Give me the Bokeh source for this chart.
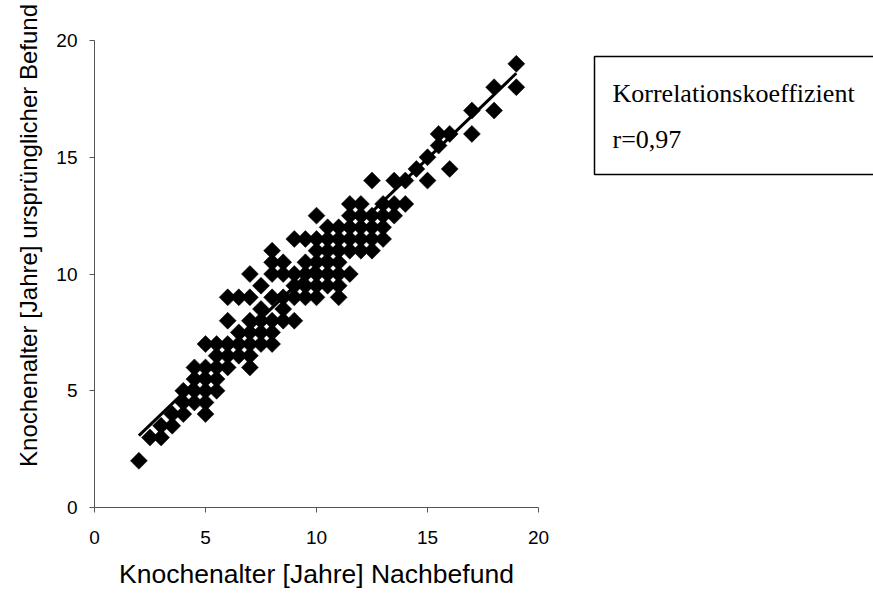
import numpy as np
from bokeh.plotting import figure
from bokeh.layouts import row
from bokeh.models import Range1d, FixedTicker
from bokeh.core.properties import value
from bokeh.embed import file_html
from bokeh.resources import INLINE

# Bone age per patient in years: follow-up reading vs. original reading
nachbefund = [
    2, 2.5, 3, 3, 3.5, 3.5, 4, 4, 4, 4.5, 4.5, 4.5, 4.5,
    5, 5, 5, 5, 5, 5, 5.5, 5.5, 5.5, 5.5, 5.5,
    6, 6, 6, 6, 6, 6.5, 6.5, 6.5, 6.5,
    7, 7, 7, 7, 7, 7, 7, 7.5, 7.5, 7.5, 7.5, 7.5,
    8, 8, 8, 8, 8, 8, 8, 8.5, 8.5, 8.5, 8.5, 8.5,
    9, 9, 9, 9, 9, 9.5, 9.5, 9.5, 9.5, 9.5,
    10, 10, 10, 10, 10, 10, 10, 10.5, 10.5, 10.5, 10.5, 10.5, 10.5,
    11, 11, 11, 11, 11, 11, 11, 11.5, 11.5, 11.5, 11.5, 11.5, 11.5,
    12, 12, 12, 12, 12, 12.5, 12.5, 12.5, 12.5, 12.5,
    13, 13, 13, 13, 13.5, 13.5, 13.5, 14, 14, 14.5,
    15, 15, 15.5, 15.5, 16, 16, 17, 17, 18, 18, 19, 19,
]
urspruenglich = [
    2, 3, 3, 3.5, 3.5, 4, 4, 4.5, 5, 4.5, 5, 5.5, 6,
    4, 4.5, 5, 5.5, 6, 7, 5, 5.5, 6, 6.5, 7,
    6, 6.5, 7, 8, 9, 6.5, 7, 7.5, 9,
    6, 6.5, 7, 7.5, 8, 9, 10, 7, 7.5, 8, 8.5, 9.5,
    7, 7.5, 8, 9, 10, 10.5, 11, 8, 8.5, 9, 10, 10.5,
    8, 9, 9.5, 10, 11.5, 9, 9.5, 10, 10.5, 11.5,
    9, 9.5, 10, 10.5, 11, 11.5, 12.5, 9.5, 10, 10.5, 11, 11.5, 12,
    9, 9.5, 10, 10.5, 11, 11.5, 12, 10, 11, 11.5, 12, 12.5, 13,
    11, 11.5, 12, 12.5, 13, 11, 11.5, 12, 12.5, 14,
    11.5, 12, 12.5, 13, 12.5, 13, 14, 13, 14, 14.5,
    14, 15, 15.5, 16, 14.5, 16, 16, 17, 17, 18, 18, 19,
]

# Regression line of the original reading on the follow-up reading
fit_intercept = 1.25
fit_slope = 0.913

axis_ticks = [0, 5, 10, 15, 20]
x_title = "Knochenalter [Jahre] Nachbefund"
y_title = "Knochenalter [Jahre] ursprünglicher Befund"
corr_title = "Korrelationskoeffizient"
corr_value = 0.97

SANS = "Liberation Sans"
SERIF = "Liberation Serif"
H = 599


def blank_panel(width):
    """A full-bleed figure without axes, title or frame padding."""
    f = figure(width=width, height=H, x_range=Range1d(0, width), y_range=Range1d(0, H),
               output_backend="svg", toolbar_location=None, title=None,
               x_axis_type=None, y_axis_type=None, frame_align=False,
               min_border_left=0, min_border_right=0,
               min_border_top=0, min_border_bottom=0)
    f.outline_line_color = None
    f.grid.grid_line_color = None
    f.background_fill_color = "white"
    f.border_fill_color = "white"
    return f


# ---- main scatter plot ----
p = figure(width=508, height=H, x_range=Range1d(0, 20), y_range=Range1d(0, 20),
           output_backend="svg", toolbar_location=None, title=None, frame_align=False,
           min_border_left=44, min_border_right=20,
           min_border_top=40, min_border_bottom=92)
p.outline_line_color = None
p.xgrid.grid_line_color = None
p.ygrid.grid_line_color = None
p.background_fill_color = "white"
p.border_fill_color = "white"

for ax in (p.xaxis, p.yaxis):
    ax.ticker = FixedTicker(ticks=axis_ticks)
    ax.minor_tick_line_color = None
    ax.major_tick_in = 0
    ax.major_tick_out = 5
    ax.axis_line_color = "#555555"
    ax.major_tick_line_color = "#555555"
    ax.major_label_text_font = SANS
    ax.major_label_text_font_size = "19px"
    ax.major_label_text_color = "black"

p.xaxis.major_label_standoff = 18
p.yaxis.major_label_standoff = 12
p.xaxis.axis_label = x_title
p.xaxis.axis_label_text_font = SANS
p.xaxis.axis_label_text_font_size = "26.5px"
p.xaxis.axis_label_text_font_style = "normal"
p.xaxis.axis_label_text_color = "black"
p.xaxis.axis_label_standoff = 12

p.scatter(nachbefund, urspruenglich, marker="square", angle=np.pi / 4, size=12,
          fill_color="black", line_color="black", line_width=0.5)

fit_x = np.array([min(nachbefund), max(nachbefund)])
fit_y = fit_intercept + fit_slope * fit_x
p.line(fit_x, fit_y, line_color="black", line_width=3)

# ---- vertical axis title strip ----
ylab = blank_panel(50)
ylab.text(x=[28], y=[H - 235], text=[y_title], angle=np.pi / 2,
          text_font=value(SANS), text_font_size="24px", text_color="black",
          text_align="center", text_baseline="middle")

# ---- correlation box ----
box = blank_panel(315)
box.quad(left=[36], right=[400], bottom=[H - 174], top=[H - 56],
         fill_color=None, line_color="black", line_width=1.5)
corr_text = "r=" + f"{corr_value:.2f}".replace(".", ",")
box.text(x=[54, 54], y=[H - 93, H - 139], text=[corr_title, corr_text],
         text_font=value(SERIF), text_font_size="26px", text_color="black",
         text_align="left", text_baseline="alphabetic")

layout = row(ylab, p, box)
open("out.html", "w").write(file_html(layout, INLINE))
